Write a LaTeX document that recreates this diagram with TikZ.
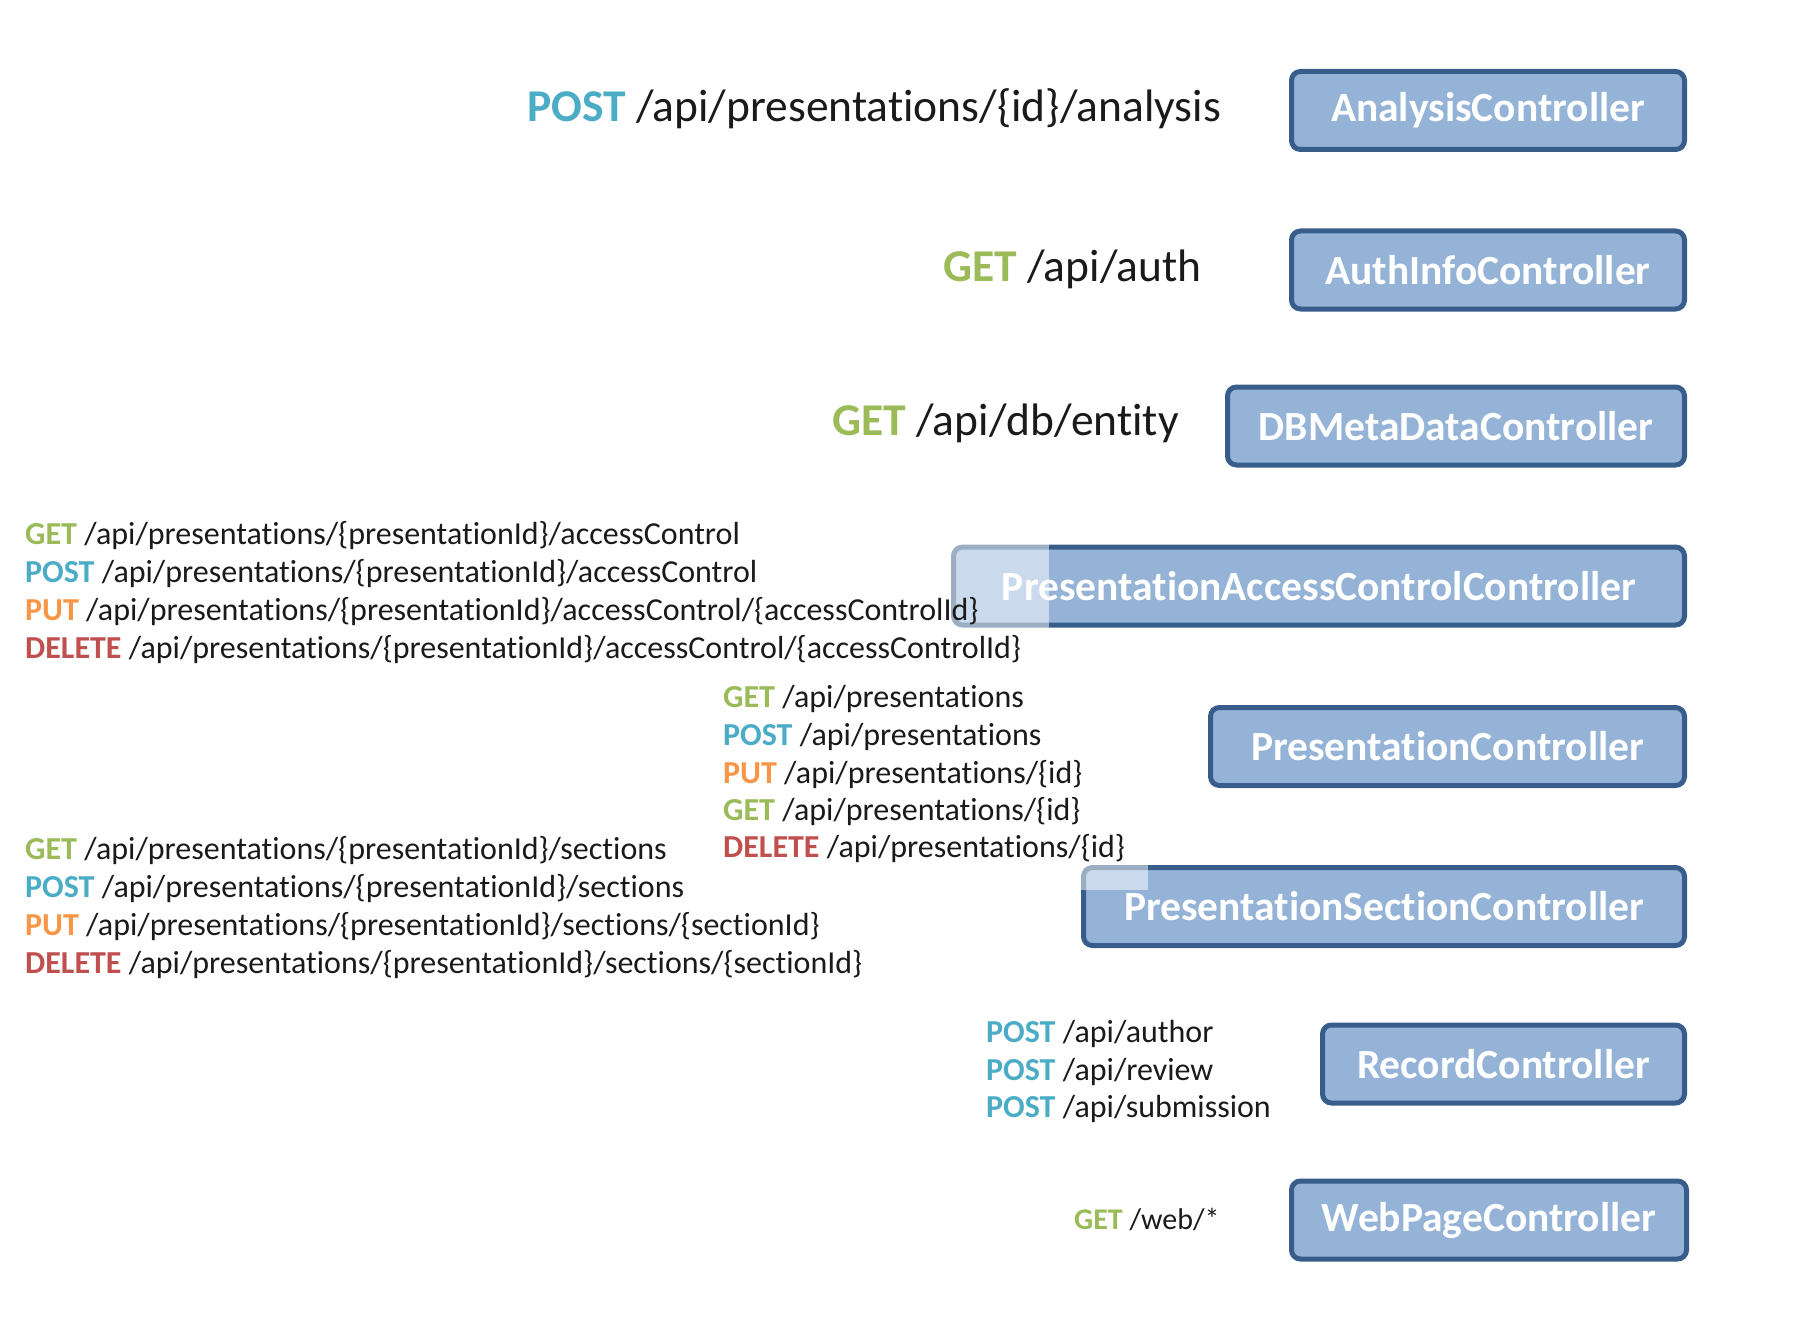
\documentclass[tikz,border=0pt]{standalone}
\usepackage{fontspec}
\setmainfont{Carlito}[Ligatures={NoCommon}]
\definecolor{getc}{HTML}{9BBB59}
\definecolor{postc}{HTML}{4BACC6}
\definecolor{putc}{HTML}{F79646}
\definecolor{delc}{HTML}{C0504D}
\definecolor{ctrlfill}{HTML}{95B3D7}
\definecolor{ctrlborder}{HTML}{385D8A}
\definecolor{pathc}{HTML}{1A1A1A}
\newcommand{\mGET}{\textbf{\color{getc}GET}}
\newcommand{\mPOST}{\textbf{\color{postc}POST}}
\newcommand{\mPUT}{\textbf{\color{putc}PUT}}
\newcommand{\mDEL}{\textbf{\color{delc}DELETE}}
\tikzset{
  ctrl/.style={draw=ctrlborder, line width=5pt, fill=ctrlfill, rounded corners=9pt,
    text=white, font=\fontsize{41.5}{48}\selectfont\bfseries, inner sep=0pt, minimum height=78pt},
  bigtxt/.style={anchor=base west, inner sep=0pt, text=pathc, font=\fontsize{45.5}{54}\selectfont},
  smalltxt/.style={anchor=base west, inner sep=0pt, text=pathc, font=\fontsize{32}{38}\selectfont},
  webtxt/.style={anchor=base west, inner sep=0pt, text=pathc, font=\fontsize{30}{35}\selectfont},
  veil/.style={fill=white, fill opacity=0.5}
}
\begin{document}
\begin{tikzpicture}[x=1pt,y=-1pt]
\useasboundingbox (0,0) rectangle (1814,1324);

% controller boxes
\node[ctrl, minimum width=393pt] (analysis) at (1488,110.5) {AnalysisController};
\node[ctrl, minimum width=393pt] (auth) at (1488,270) {AuthInfoController};
\node[ctrl, minimum width=457pt] (dbmeta) at (1456,426) {DBMetaDataController};
\node[ctrl, minimum width=731pt] (pacc) at (1319,586) {PresentationAccessControlController};
\node[ctrl, minimum width=474pt] (pres) at (1447.5,746.5) {PresentationController};
\node[ctrl, minimum width=601pt] (psec) at (1384,906.5) {PresentationSectionController};
\node[ctrl, minimum width=362pt] (record) at (1503.5,1064) {RecordController};
\node[ctrl, minimum width=395pt] (web) at (1489,1220) {WebPageController};

% semi-transparent text-box backgrounds overlapping the boxes
\fill[veil] (20,515) rectangle (1049,672);
\fill[veil] (715,680) rectangle (1148,890);

% endpoints
\node[bigtxt] (tA) at (527,122) {\mPOST{} /api/presentations/\{id\}/analysis};
\node[bigtxt] (tB) at (943,281) {\mGET{} /api/auth};
\node[bigtxt] (tC) at (832,435) {\mGET{} /api/db/entity};

\node[smalltxt] (ac1) at (25,544) {\mGET{} /api/presentations/\{presentationId\}/accessControl};
\node[smalltxt] (ac2) at (25,582) {\mPOST{} /api/presentations/\{presentationId\}/accessControl};
\node[smalltxt] (ac3) at (25,620) {\mPUT{} /api/presentations/\{presentationId\}/accessControl/\{accessControlId\}};
\node[smalltxt] (ac4) at (25,658) {\mDEL{} /api/presentations/\{presentationId\}/accessControl/\{accessControlId\}};

\node[smalltxt] (p1) at (723,707) {\mGET{} /api/presentations};
\node[smalltxt] (p2) at (723,745) {\mPOST{} /api/presentations};
\node[smalltxt] (p3) at (723,783) {\mPUT{} /api/presentations/\{id\}};
\node[smalltxt] (p4) at (723,820) {\mGET{} /api/presentations/\{id\}};
\node[smalltxt] (p5) at (723,857) {\mDEL{} /api/presentations/\{id\}};

\node[smalltxt] (s1) at (25,859) {\mGET{} /api/presentations/\{presentationId\}/sections};
\node[smalltxt] (s2) at (25,897) {\mPOST{} /api/presentations/\{presentationId\}/sections};
\node[smalltxt] (s3) at (25,935) {\mPUT{} /api/presentations/\{presentationId\}/sections/\{sectionId\}};
\node[smalltxt] (s4) at (25,973) {\mDEL{} /api/presentations/\{presentationId\}/sections/\{sectionId\}};

\node[smalltxt] (r1) at (986,1042) {\mPOST{} /api/author};
\node[smalltxt] (r2) at (986,1080) {\mPOST{} /api/review};
\node[smalltxt] (r3) at (986,1117) {\mPOST{} /api/submission};

\node[webtxt] (w1) at (1074,1229) {\mGET{} /web/*};
\end{tikzpicture}
\end{document}
